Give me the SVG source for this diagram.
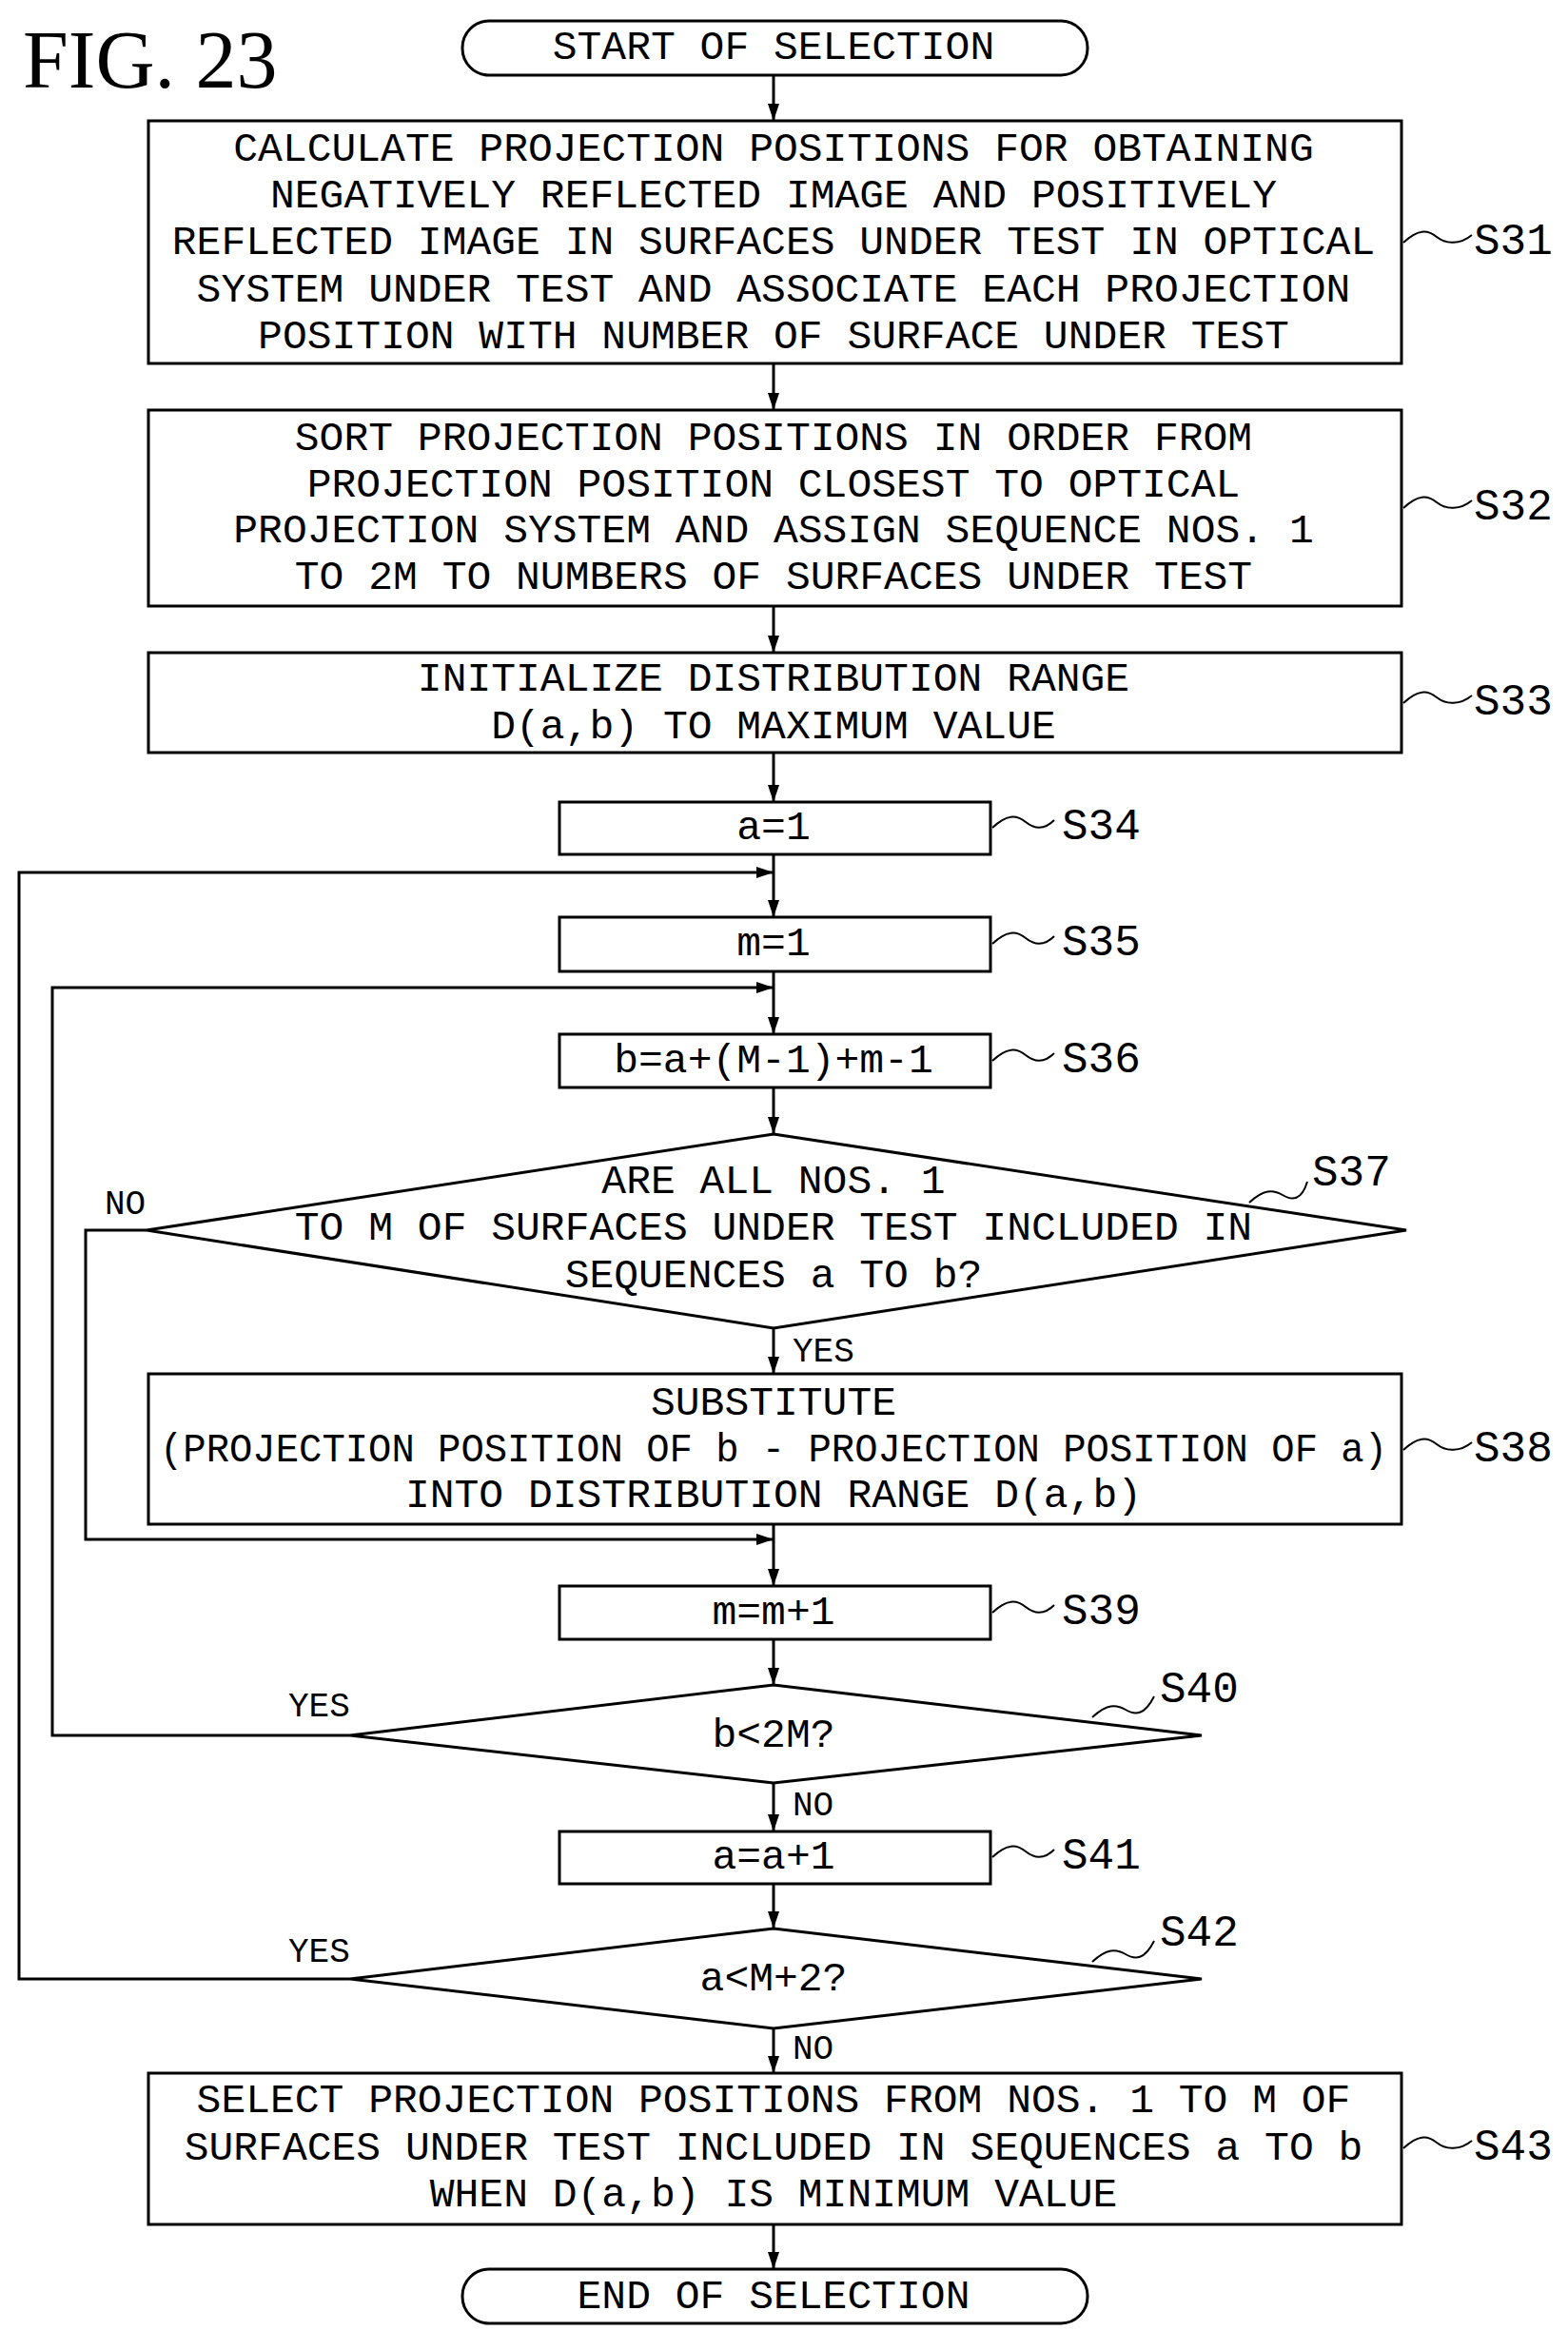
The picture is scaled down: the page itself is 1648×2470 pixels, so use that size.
<svg xmlns="http://www.w3.org/2000/svg" width="1648" height="2470" viewBox="0 0 1648 2470">
<style>
.b{fill:#fff;stroke:#000;stroke-width:3}
.t{font-family:"Liberation Mono",monospace;font-size:43px;text-anchor:middle;dominant-baseline:central;fill:#000}
.l{font-family:"Liberation Mono",monospace;font-size:46px;dominant-baseline:central;fill:#000}
.y{font-family:"Liberation Mono",monospace;font-size:36px;dominant-baseline:central;fill:#000}
.c{fill:none;stroke:#000;stroke-width:3}
.w{fill:none;stroke:#000;stroke-width:2}
</style>
<defs>
<marker id="ar" viewBox="0 0 18 18" refX="18" refY="9" markerWidth="18" markerHeight="18" markerUnits="userSpaceOnUse" orient="auto"><path d="M0,3L18,9L0,15z"/></marker></defs>
<text x="24" y="92" font-family="Liberation Serif,serif" font-size="86">FIG. 23</text>
<g id="connectors">
<path class="c" marker-end="url(#ar)" d="M813,79V127"/>
<path class="c" marker-end="url(#ar)" d="M813,382V431"/>
<path class="c" marker-end="url(#ar)" d="M813,637V686"/>
<path class="c" marker-end="url(#ar)" d="M813,791V843"/>
<path class="c" marker-end="url(#ar)" d="M813,898V964"/>
<path class="c" marker-end="url(#ar)" d="M813,1021V1087"/>
<path class="c" marker-end="url(#ar)" d="M813,1143V1192"/>
<path class="c" marker-end="url(#ar)" d="M813,1396V1444"/>
<path class="c" marker-end="url(#ar)" d="M813,1602V1667"/>
<path class="c" marker-end="url(#ar)" d="M813,1723V1771"/>
<path class="c" marker-end="url(#ar)" d="M813,1874V1925"/>
<path class="c" marker-end="url(#ar)" d="M813,1980V2027"/>
<path class="c" marker-end="url(#ar)" d="M813,2132V2179"/>
<path class="c" marker-end="url(#ar)" d="M813,2338V2385"/>
<path class="c" marker-end="url(#ar)" d="M368,1824H55V1038H813"/>
<path class="c" marker-end="url(#ar)" d="M368,2080H20V917H813"/>
<path class="c" marker-end="url(#ar)" d="M154,1293H90V1618H813"/>
<text class="y" x="110" y="1266">NO</text>
<text class="y" x="833" y="1421">YES</text>
<text class="y" x="303" y="1794">YES</text>
<text class="y" x="833" y="1898">NO</text>
<text class="y" x="303" y="2052">YES</text>
<text class="y" x="833" y="2154">NO</text>
</g>
<g id="start"><rect class="b" x="486" y="22" width="657" height="57" rx="28"/><text class="t" x="813" y="50">START OF SELECTION</text></g>
<g id="S31"><rect class="b" x="156" y="127" width="1317" height="255"/>
<text class="t" x="813" y="157">CALCULATE PROJECTION POSITIONS FOR OBTAINING</text>
<text class="t" x="813" y="206">NEGATIVELY REFLECTED IMAGE AND POSITIVELY</text>
<text class="t" x="813" y="255">REFLECTED IMAGE IN SURFACES UNDER TEST IN OPTICAL</text>
<text class="t" x="813" y="305">SYSTEM UNDER TEST AND ASSOCIATE EACH PROJECTION</text>
<text class="t" x="813" y="354">POSITION WITH NUMBER OF SURFACE UNDER TEST</text>
<path class="w" d="M1475,255c15,-14 25,-14 35,-6s25,8 37,-2"/><text class="l" x="1549" y="255">S31</text></g>
<g id="S32"><rect class="b" x="156" y="431" width="1317" height="206"/>
<text class="t" x="813" y="461">SORT PROJECTION POSITIONS IN ORDER FROM</text>
<text class="t" x="813" y="510">PROJECTION POSITION CLOSEST TO OPTICAL</text>
<text class="t" x="813" y="558">PROJECTION SYSTEM AND ASSIGN SEQUENCE NOS. 1</text>
<text class="t" x="813" y="607">TO 2M TO NUMBERS OF SURFACES UNDER TEST</text>
<path class="w" d="M1475,534c15,-14 25,-14 35,-6s25,8 37,-2"/><text class="l" x="1549" y="534">S32</text></g>
<g id="S33"><rect class="b" x="156" y="686" width="1317" height="105"/>
<text class="t" x="813" y="714">INITIALIZE DISTRIBUTION RANGE</text>
<text class="t" x="813" y="764">D(a,b) TO MAXIMUM VALUE</text>
<path class="w" d="M1475,739c15,-14 25,-14 35,-6s25,8 37,-2"/><text class="l" x="1549" y="739">S33</text></g>
<g id="S34"><rect class="b" x="588" y="843" width="453" height="55"/><text class="t" x="813" y="870">a=1</text>
<path class="w" d="M1043,870c15,-14 25,-14 35,-6s20,8 30,-2"/><text class="l" x="1116" y="870">S34</text></g>
<g id="S35"><rect class="b" x="588" y="964" width="453" height="57"/><text class="t" x="813" y="992">m=1</text>
<path class="w" d="M1043,992c15,-14 25,-14 35,-6s20,8 30,-2"/><text class="l" x="1116" y="992">S35</text></g>
<g id="S36"><rect class="b" x="588" y="1087" width="453" height="56"/><text class="t" x="813" y="1115">b=a+(M-1)+m-1</text>
<path class="w" d="M1043,1115c15,-14 25,-14 35,-6s20,8 30,-2"/><text class="l" x="1116" y="1115">S36</text></g>
<g id="S37"><path class="b" d="M813,1192L1478,1293L813,1396L154,1293z"/>
<text class="t" x="813" y="1242">ARE ALL NOS. 1</text>
<text class="t" x="813" y="1291">TO M OF SURFACES UNDER TEST INCLUDED IN</text>
<text class="t" x="813" y="1341">SEQUENCES a TO b?</text>
<path class="w" d="M1313,1264c15,-14 25,-14 35,-8s20,6 26,-14"/><text class="l" x="1379" y="1234">S37</text></g>
<g id="S38"><rect class="b" x="156" y="1444" width="1317" height="158"/>
<text class="t" x="813" y="1475">SUBSTITUTE</text>
<text class="t" x="813" y="1524" textLength="1290" lengthAdjust="spacingAndGlyphs">(PROJECTION POSITION OF b - PROJECTION POSITION OF a)</text>
<text class="t" x="813" y="1572">INTO DISTRIBUTION RANGE D(a,b)</text>
<path class="w" d="M1475,1524c15,-14 25,-14 35,-6s25,8 37,-2"/><text class="l" x="1549" y="1524">S38</text></g>
<g id="S39"><rect class="b" x="588" y="1667" width="453" height="56"/><text class="t" x="813" y="1695">m=m+1</text>
<path class="w" d="M1043,1695c15,-14 25,-14 35,-6s20,8 30,-2"/><text class="l" x="1116" y="1695">S39</text></g>
<g id="S40"><path class="b" d="M813,1771L1263,1824L813,1874L368,1824z"/><text class="t" x="813" y="1824">b&lt;2M?</text>
<path class="w" d="M1148,1805c15,-14 25,-14 35,-8s20,6 30,-14"/><text class="l" x="1219" y="1777">S40</text></g>
<g id="S41"><rect class="b" x="588" y="1925" width="453" height="55"/><text class="t" x="813" y="1952">a=a+1</text>
<path class="w" d="M1043,1952c15,-14 25,-14 35,-6s20,8 30,-2"/><text class="l" x="1116" y="1952">S41</text></g>
<g id="S42"><path class="b" d="M813,2027L1263,2080L813,2132L368,2080z"/><text class="t" x="813" y="2080">a&lt;M+2?</text>
<path class="w" d="M1148,2062c15,-14 25,-14 35,-8s20,6 30,-14"/><text class="l" x="1219" y="2033">S42</text></g>
<g id="S43"><rect class="b" x="156" y="2179" width="1317" height="159"/>
<text class="t" x="813" y="2208">SELECT PROJECTION POSITIONS FROM NOS. 1 TO M OF</text>
<text class="t" x="813" y="2258">SURFACES UNDER TEST INCLUDED IN SEQUENCES a TO b</text>
<text class="t" x="813" y="2307">WHEN D(a,b) IS MINIMUM VALUE</text>
<path class="w" d="M1475,2258c15,-14 25,-14 35,-6s25,8 37,-2"/><text class="l" x="1549" y="2258">S43</text></g>
<g id="end"><rect class="b" x="486" y="2385" width="657" height="57" rx="28"/><text class="t" x="813" y="2414">END OF SELECTION</text></g>
</svg>
